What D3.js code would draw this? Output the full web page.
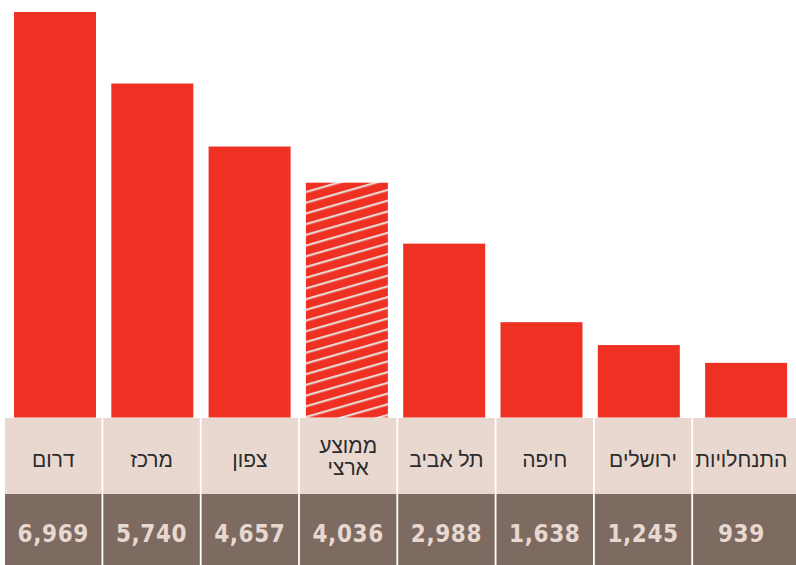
<!DOCTYPE html>
<html><head><meta charset="utf-8">
<script src="https://cdn.jsdelivr.net/npm/d3@7"></script>
<style>
html,body{margin:0;padding:0;background:#fff;}
svg{display:block;}
</style></head>
<body>
<svg id="chart" width="796" height="565"></svg>
<script>
const categories = ["דרום", "מרכז", "צפון", "ממוצע ארצי", "תל אביב", "חיפה", "ירושלים", "התנחלויות"];
const labelLines = [["דרום"], ["מרכז"], ["צפון"], ["ממוצע", "ארצי"], ["תל אביב"], ["חיפה"], ["ירושלים"], ["התנחלויות"]];
const values = [6969, 5740, 4657, 4036, 2988, 1638, 1245, 939];
const hatched = [false, false, false, true, false, false, false, false];

const W = 796, H = 565;
const red = "#ef3124", light = "#e8d8d0", dark = "#7d6a61";
const svg = d3.select("#chart");

const defs = svg.append("defs");
const pat = defs.append("pattern").attr("id", "hatch").attr("patternUnits", "userSpaceOnUse")
  .attr("width", 10.3).attr("height", 10.3).attr("patternTransform", "rotate(-16)");
pat.append("rect").attr("width", 10.3).attr("height", 10.3).attr("fill", red);
pat.append("rect").attr("y", 0).attr("width", 10.3).attr("height", 2.2).attr("fill", light);

// bars
const barTop = 12, barBottom = 417.5;
const step = 97.3, bw = 82;
const x = d3.scaleBand().domain(categories).range([14, 14 + step * 7 + bw]).paddingInner((step - bw) / step).paddingOuter(0).align(0);
const y = d3.scaleLinear().domain([0, 6969]).range([barBottom, barTop]);
const lastShift = 10;

svg.append("g").selectAll("rect").data(categories).join("rect")
  .attr("x", (d, i) => x(d) + (i === categories.length - 1 ? lastShift : 0))
  .attr("y", (d, i) => y(values[i]))
  .attr("width", x.bandwidth())
  .attr("height", (d, i) => barBottom - y(values[i]))
  .attr("fill", (d, i) => hatched[i] ? "url(#hatch)" : red);

// table cells
const cstep = 98.3, cw = 96.5;
const cx = d3.scaleBand().domain(categories).range([5, 5 + cstep * 7 + cw]).paddingInner((cstep - cw) / cstep).paddingOuter(0).align(0);
const rowTop = 418, rowMid = 494, rowBot = H;

const cells = svg.append("g").selectAll("g").data(categories).join("g");
cells.append("rect")
  .attr("x", d => cx(d)).attr("y", rowTop)
  .attr("width", (d, i) => i === categories.length - 1 ? W - cx(d) : cx.bandwidth())
  .attr("height", rowMid - rowTop).attr("fill", light);
cells.append("rect")
  .attr("x", d => cx(d)).attr("y", rowMid)
  .attr("width", (d, i) => i === categories.length - 1 ? W - cx(d) : cx.bandwidth())
  .attr("height", rowBot - rowMid).attr("fill", dark);

cells.each(function(d, i) {
  const g = d3.select(this);
  const lines = labelLines[i];
  const mid = cx(d) + cx.bandwidth() / 2;
  const lh = 22;
  const y0 = lines.length === 1 ? 467 : 453;
  lines.forEach((ln, j) => {
    g.append("text")
      .attr("x", mid).attr("y", y0 + j * lh)
      .attr("text-anchor", "middle")
      .attr("direction", "rtl")
      .attr("font-family", "'Liberation Sans', Arial, sans-serif")
      .attr("font-size", 21)
      .attr("fill", "#2b2b2b")
      .text(ln);
  });
  g.append("text")
    .attr("x", mid).attr("y", 542)
    .attr("text-anchor", "middle")
    .attr("font-family", "'DejaVu Sans Condensed', 'DejaVu Sans', sans-serif")
    .attr("font-weight", "bold")
    .attr("font-size", 24)
    .attr("letter-spacing", 0.6)
    .attr("fill", light)
    .text(d3.format(",")(values[i]));
});
</script>
</body></html>
